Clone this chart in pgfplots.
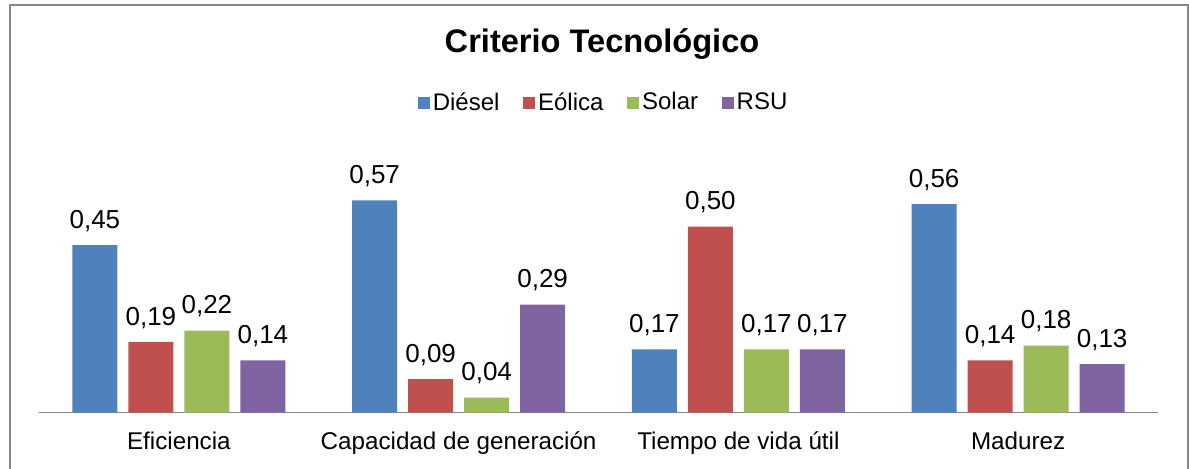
\documentclass[border=0pt]{standalone}
\usepackage{fontspec}
\setmainfont{Liberation Sans}
\usepackage{pgfplots}
\pgfplotsset{compat=1.18}
\definecolor{cDiesel}{HTML}{4F81BD}
\definecolor{cEolica}{HTML}{C0504D}
\definecolor{cSolar}{HTML}{9BBB59}
\definecolor{cRSU}{HTML}{8064A2}
\definecolor{frame}{HTML}{868686}
\begin{document}
\begin{tikzpicture}
% 1 px of the reference = 0.5pt
\clip (0,0) rectangle (594.5pt,234pt);
\fill[white] (0,0) rectangle (594.5pt,234pt);
\draw[frame, line width=1pt] (4.75pt,-5pt) -- (4.75pt,231.5pt) -- (593.75pt,231.5pt) -- (593.75pt,-5pt);
\node[anchor=base, font=\fontsize{16.3}{16}\selectfont\bfseries] at (301pt,208pt) {Criterio Tecnológico};
\begin{axis}[
  at={(19.5pt,27.75pt)}, anchor=south west,
  width=559.5pt, height=111.6pt, scale only axis,
  ybar=5.5pt, bar width=22.5pt,
  xmin=-0.5, xmax=3.5, ymin=0, ymax=0.6,
  axis x line=bottom, axis y line=none,
  axis line style={frame, line width=0.8pt, -},
  xtick={0,1,2,3}, major tick length=0pt,
  xticklabels={Eficiencia, Capacidad de generación, Tiempo de vida útil, Madurez},
  xticklabel style={font=\fontsize{12.1}{12}\selectfont, anchor=base, yshift=-18.25pt},
  nodes near coords,
  every node near coord/.append style={font=\fontsize{13}{13}\selectfont, anchor=base, yshift=8.4pt, text=black},
  /pgf/number format/.cd, use comma, fixed, fixed zerofill, precision=2, assume math mode=true, /pgfplots/.cd,
  legend columns=4,
  legend style={at={(0.505,1.388)}, anchor=center, draw=none, fill=none,
    font=\fontsize{12}{12}\selectfont,
    /tikz/every even column/.append style={column sep=10.5pt},
    nodes={inner sep=1.4pt}},
  legend image code/.code={\fill[#1] (0pt,-3pt) rectangle (6pt,3pt);},
  clip=false]
\addplot[fill=cDiesel, draw=none] coordinates {(0,0.45) (1,0.57) (2,0.17) (3,0.56)};
\addlegendentry{Diésel}
\addplot[fill=cEolica, draw=none] coordinates {(0,0.19) (1,0.09) (2,0.50) (3,0.14)};
\addlegendentry{Eólica}
\addplot[fill=cSolar, draw=none] coordinates {(0,0.22) (1,0.04) (2,0.17) (3,0.18)};
\addlegendentry{Solar}
\addplot[fill=cRSU, draw=none] coordinates {(0,0.14) (1,0.29) (2,0.17) (3,0.13)};
\addlegendentry{RSU}
\end{axis}
\end{tikzpicture}
\end{document}
